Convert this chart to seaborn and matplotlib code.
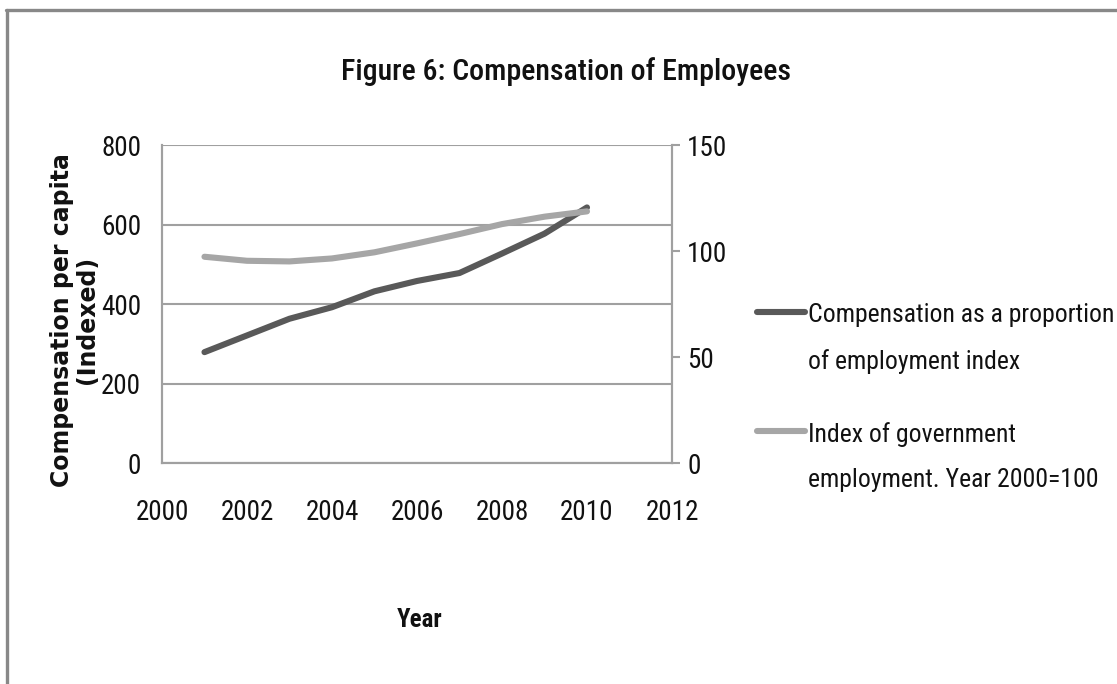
import matplotlib
matplotlib.use("Agg")
import matplotlib.pyplot as plt
from matplotlib import font_manager
from matplotlib.lines import Line2D
import seaborn as sns
import pandas as pd

# Series values
years = [2001, 2002, 2003, 2004, 2005, 2006, 2007, 2008, 2009, 2010]
compensation = [279, 321, 363, 392, 432, 458, 478, 527, 577, 643]
gov_employment = [97.3, 95.4, 95.1, 96.5, 99.4, 103.6, 108.0, 112.7, 116.2, 118.7]

x_ticks = [2000, 2002, 2004, 2006, 2008, 2010, 2012]
left_ticks = [0, 200, 400, 600, 800]
right_ticks = [0, 50, 100, 150]

label_comp = "Compensation as a proportion\nof employment index"
label_gov = "Index of government\nemployment. Year 2000=100"


def first_installed(candidates):
    names = {f.name for f in font_manager.fontManager.ttflist}
    for c in candidates:
        if c in names:
            return c
    return "DejaVu Sans"


narrow_font = first_installed(["Roboto Condensed", "Liberation Sans Narrow",
                               "Noto Sans Condensed", "Roboto"])
narrow = [narrow_font, "DejaVu Sans"]

sns.set_theme(style="white")
plt.rcParams["font.family"] = narrow

df = pd.DataFrame({"Year": years, "comp": compensation, "gov": gov_employment})

fig = plt.figure(figsize=(11.17, 6.84), dpi=100)
ax = fig.add_axes([0.145, 0.323, 0.4566, 0.465])
ax2 = ax.twinx()

dark = "#595959"
light = "#A6A6A6"
grid_c = "#A0A0A0"
text_c = "#111111"

sns.lineplot(data=df, x="Year", y="comp", ax=ax, color=dark, linewidth=4.4,
             solid_capstyle="round", legend=False, zorder=3)
sns.lineplot(data=df, x="Year", y="gov", ax=ax2, color=light, linewidth=4.4,
             solid_capstyle="round", legend=False, zorder=3)

ax.set_xlim(2000, 2012)
ax.set_ylim(0, 800)
ax2.set_ylim(0, 150)
ax.set_xticks(x_ticks)
ax.set_yticks(left_ticks)
ax2.set_yticks(right_ticks)
ax.set_xticklabels([str(t) for t in x_ticks])

ax.grid(axis="y", color=grid_c, linewidth=1.5)
ax.grid(axis="x", visible=False)
ax2.grid(False)
ax.set_axisbelow(True)

for a in (ax, ax2):
    a.spines["top"].set_visible(False)
    for side in ("left", "right", "bottom"):
        a.spines[side].set_color(grid_c)
        a.spines[side].set_linewidth(1.5)

ax.tick_params(axis="both", which="both", length=0, labelsize=19.5,
               labelcolor=text_c)
ax.tick_params(axis="x", pad=26)
ax.tick_params(axis="y", pad=15)
ax2.tick_params(axis="y", which="both", length=6, width=1.5, color=grid_c,
                labelsize=19.5, labelcolor=text_c, pad=5, right=True)

ax.set_xlabel("")
ax.set_ylabel("")
ax2.set_ylabel("")

fig.text(0.376, 0.093, "Year", ha="center", va="center", fontsize=18,
         fontweight="bold", color=text_c, family=narrow)
fig.text(0.0665, 0.532, "Compensation per capita\n(Indexed)", ha="center",
         va="center", rotation=90, fontsize=17, fontweight="bold",
         color=text_c, family=["DejaVu Sans"], linespacing=1.08)
fig.text(0.507, 0.895, "Figure 6: Compensation of Employees", ha="center",
         va="center", fontsize=21.5, fontweight="medium", color=text_c,
         family=narrow)

# Legend entries: key line beside the first line of each wrapped label
legend_entries = [(label_comp, dark, 312), (label_gov, light, 431)]
W, H = 1117.0, 684.0
for text, color, y_px in legend_entries:
    y = 1 - y_px / H
    fig.add_artist(Line2D([757 / W, 805 / W], [y, y], transform=fig.transFigure,
                          color=color, linewidth=4.4, solid_capstyle="round"))
    fig.text(808 / W, y + 9 / H, text, ha="left", va="top", fontsize=18.5,
             color=text_c, family=narrow, linespacing=2.1)

# Outer chart frame (top and left edges)
fig.add_artist(Line2D([0.0055, 1.0], [0.986, 0.986], transform=fig.transFigure,
                      color="#888888", linewidth=2.4))
fig.add_artist(Line2D([0.0062, 0.0062], [0.0, 0.986], transform=fig.transFigure,
                      color="#888888", linewidth=2.4))

fig.savefig("out.png", dpi=100, facecolor="white")
